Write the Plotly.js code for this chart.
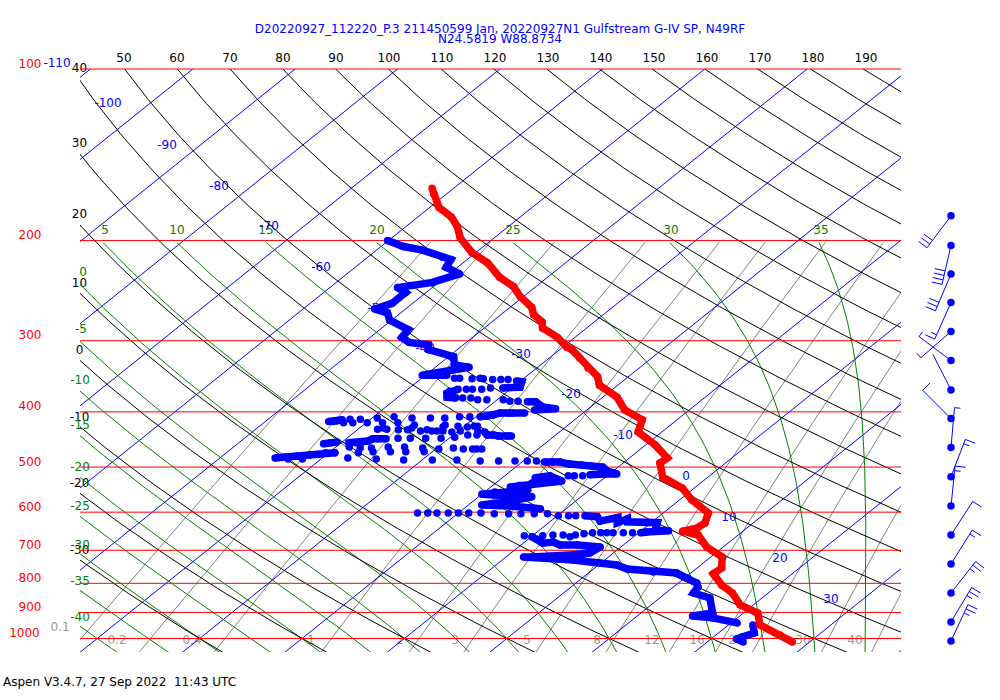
<!DOCTYPE html>
<html>
<head>
<meta charset="utf-8">
<script src="https://cdn.plot.ly/plotly-3.0.1.min.js"></script>
<style>html,body{margin:0;padding:0;background:#fff}</style>
</head>
<body>
<div id="chart" style="width:1000px;height:700px"></div>
<script>
// ---- Sounding: temperature (deg C) and pressure (hPa)
const tempC = [-62.1,-61.2,-59.1,-56.7,-55,-53.3,-50.4,-47.6,-44.7,-42.2,-40.3,-37.9,-36.8,-35.1,-34.3,-31.7,-29.6,-28.8,-27,-25,-23,-21.8,-18.6,-16.3,-13.4,-12.3,-9.1,-6.3,-6.4,-4.4,-1.2,1.2,4.4,5.3,5.1,4.1,6.1,8.4,11.1,12.4,12.3,14.5,16.5,18.7,21.4,23.1,26.25,28.3];
const tempP = [162,166,175,182,189,198,210,219,232,241,251,262,270,278,285,296,308,311,322,335,347,359,377,397,413,434,457,482,492,521,544,571,602,627,640,648,658,691,719,752,770,806,832,873,902,947,986,1014];

// ---- Dew point: continuous stretches (null = break)
const dewLineC = [-60.1,-57.8,-55.5,-52.7,-51.6,-51.1,-49,-50.6,-52.5,-53.4,-52,-52,-53,-51.3,-50.2,-47.2,-46.9,-45.6,-43.4,-42.8,-39.5,-38.4,-36.7,-38.2,-40.3,-37.9,null,
 -30.4,-29.8,-29.3,-30.9,null,
 -35.1,-35.7,-35.7,-35.2,-34.3,null,
 -26.8,-26,-24.7,-23.2,-25.1,null,
 -29.6,-29,-28.6,-28.1,-27.3,-26.9,-25.7,null,
 -43.8,-43.4,-43.1,-42.7,null,
 -27.3,-26.7,-26.1,-25.5,-24.6,-24.2,null,
 -39.3,-38.6,-38,-37.6,-37.4,-36.1,null,
 -41.6,-41.1,-40.5,null,
 -44.6,-43.8,-42.7,-41.6,-40.3,-39.4,null,
 -17.8,-17,-16.3,-15.1,-13.8,-12.7,-11.5,-10.6,-9.3,-10.6,-11.8,null,
 -16.8,-16.1,-15.6,-13.8,-14.5,-15.8,-16.5,-17.4,-18.1,-16,-19,-20,-15.5,-14.8,-16.4,-18.7,-15.8,-12.5,null,
 -7.3,-6,-5.2,-3.9,-3.3,-2.8,-2.4,-0.4,0.6,1.3,2.7,0.7,0.2,null,
 -9.9,-9.2,-8.1,-7.2,-6.2,-4.5,-2,-2.3,-3.7,-7.4,-8.3,-3.1,-0.1,1.8,3.3,6.2,8.6,10.2,11.8,12.4,12.7,14.9,17,15.4,17.6,20.6,null,
 22.4,23.5,22.8,22.5,23.5];
const dewLineP = [200,205,208,214,216,223,229,237,240,242,247,258,264,268,276,287,296,302,305,311,320,331,334,338,345,345,null,
 353,354,362,363,null,
 365,368,371,377,378,null,
 384,384,392,395,397,null,
 408,407,405,402,402,402,402,null,
 416,416,415,413,null,
 434,439,439,441,441,441,null,
 453,453,452,450,446,446,null,
 455,453,452,null,
 482,480,478,476,472,472,null,
 490,490,490,494,496,498,500,508,514,514,516,null,
 522,520,518,529,531,531,533,538,542,549,553,558,564,564,574,583,585,592,null,
 609,611,622,613,626,616,624,626,626,645,647,650,652,null,
 663,669,680,677,685,685,691,708,713,719,719,728,737,743,755,764,767,783,799,812,832,849,902,913,920,939,null,
 947,978,994,1002,1014];

// ---- Dew point: separate samples
const dewDotC = [-36.8,-36.3,-35,-34.3,-33.9,-32.9,-32.1,-31.4,-32.1,-32.8,-33.7,-34.3,-33.6,-32.8,-31.9,-31,-29.4,-28.6,-27.8,-26.2,-30.6,-31.6,-32.9,-34.3,-36.1,-38,-39.5,-41,-42,-42.2,-41.3,-39.9,-38.4,-36.9,-37.7,-38.1,-37.2,-36,-35.1,-33.2,-35,-34.9,-33.7,-32.6,-32.1,-31.5,-29.8,-28.1,-30.5,-32,-32,-30.6,-29.6,-29,-28.7,-28.6,-27.7,-29.6,-30.8,-32.3,-33.8,-35,-36.9,-38.7,-39.4,-37.5,-36.4,-31.4,-37.1,-35.8,-34.9,-33.3,-34.1,-32.6,-30.8,-29.7,-27.3,-26.4,-26,-25.5,-28.4,-43.2,-41.8,-37.5,-34.6,-31.8,-29,-26.6,-24.2,-22.4,-20.8,-19.6,-18.7,-12.4,-13.2,-13.8,-24,-23,-22.1,-21,-20,-19,-17.8,-16.4,-15,-13.8,-12.5,-11.2,-9.9,-8.9,-8.2,-0.6,-1.5,-2.5,-3.1,-3.7,-4.5,-5.2,-5.9,-7.1,-8.1,-6.2,-9,-9.9,-10.8];
const dewDotP = [349,349,350,349,350,351,351,351,363,365,365,365,378,378,381,381,381,383,383,384,408,408,410,410,410,408,410,412,412,418,418,418,418,418,427,429,429,430,430,430,422,427,432,432,432,432,432,432,434,425,422,424,425,424,424,439,439,443,445,445,445,445,446,461,472,463,463,463,472,470,461,461,470,470,470,465,465,465,465,465,463,484,484,482,484,486,486,486,488,488,488,488,488,518,518,518,602,602,602,602,602,602,602,604,604,604,604,604,609,609,609,652,652,652,652,652,652,655,658,658,658,663,660,663,660];

// ---- Wind barbs
const barbPressure = [181,204,229,257,289,325,366,411,462,520,585,658,740,832,935,1010];
const barbDirection = [217,193,203,204,229,307,333,315,5,21,6,33,32,38,31,25];
const barbSpeed = [30,40,30,15,5,5,0,10,5,15,15,10,15,25,25,25];

// ---- Diagram levels and their labels
const isobars = [100,200,300,400,500,600,700,800,900,1000];
const isotherms = [-110,-100,-90,-80,-70,-60,-50,-40,-30,-20,-10,0,10,20,30,40];
const dryAdiabats = [-30,-20,-10,0,10,20,30,40,50,60,70,80,90,100,110,120,130,140,150,160,170,180,190];
const moistAdiabats = [-40,-35,-30,-25,-20,-15,-10,-5,0,5,10,15,20,25,30,35];
const mixingRatios = [0.1,0.2,0.4,1,2,3,5,8,12,16,20,30,40];

const titleMain = 'D20220927_112220_P.3 211450599 Jan, 20220927N1 Gulfstream G-IV SP, N49RF';
const titleSub = 'N24.5819 W88.8734';
const footer = 'Aspen V3.4.7, 27 Sep 2022 \u00A011:43 UTC';

// ---- Label placement, in page pixels
const isobarLabelX = [30,30,30,30,30,30,30,30,30,24.5];
const thetaTopLabels = [50,60,70,80,90,100,110,120,130,140,150,160,170,180,190];
const thetaTopX = [124,177,230,283,336,389,442,495,548,601,654,707,760,813,866];
const thetaLeftLabels = [40,30,20,10,0,-10,-20,-30];
const thetaLeftY = [68,143,214,283,350,417,483,550];
const moistTopLabels = [5,10,15,20,25,30,35];
const moistTopX = [105,177,266,377,513,671,821];
const moistLeftLabels = [0,-5,-10,-15,-20,-25,-30,-35,-40];
const moistLeftX = [83,81,80,80,80,80,80,80,80];
const moistLeftY = [272,329,380,425,467,506,545,581,617];
const tempLabels = [-110,-100,-90,-80,-70,-60,-50,-40,-30,-20,-10,0,10,20,30];
const tempLabelX = [57,108,167,219,269,321,377,425,521,571,623,686,729,780,831];
const tempLabelY = [63,103,145,186,226,267,308,348,354,394,435,476,517,558,599];
const mixLabelX = [60,117,192,311,400,455,527,597,652,697,736,803,855];
const mixLabelY = [627,640,640,640,640,640,640,640,640,640,640,640,640];
const TEXT_DROP = 1;

// ---- Skew-T transform and thermodynamics
const SKEW = 30.11;
const skewX = (t, p) => t + SKEW * Math.log(1000 / p);
const pressureSteps = [];
for (let lp = Math.log(100); lp <= Math.log(1060) + 1e-9; lp += 0.02) pressureSteps.push(Math.exp(lp));
const pageY = p => 638.5 - 247.3 * Math.log(1000 / p);

const FONT = 'DejaVu Sans, sans-serif';
const BLUE = '#0000ff', RED = '#ff0000', GREEN = '#008000', GREY = '#808080';

function gridLines(levels, pointsFor) {
  const xs = [], ys = [];
  levels.forEach(l => {
    pointsFor(l).forEach(([t, p]) => { xs.push(skewX(t, p)); ys.push(p); });
    xs.push(null); ys.push(null);
  });
  return { x: xs, y: ys };
}
const skewLine = (g, color, width) => ({
  x: g.x, y: g.y, xaxis: 'x2', yaxis: 'y2', type: 'scatter', mode: 'lines',
  line: { color, width }, hoverinfo: 'skip', showlegend: false
});

const isothermGrid = gridLines(isotherms, t => [[t, 100], [t, 1060]]);
const dryGrid = gridLines(dryAdiabats, th => pressureSteps.map(p =>
  [(th + 273.15) * Math.pow(p / 1000, 0.288) - 273.15, p]));

function satMix(tK, p) {
  const tc = tK - 273.15;
  const es = 6.112 * Math.exp(17.67 * tc / (tc + 243.5));
  return 0.622 * es / (p - es);
}
function moistProfile(thw) {
  const top = thw < 0 ? 300 : 200;
  const step = 0.02;
  const slope = (T, p) => {
    const q = satMix(T, p), L = 2.501e6 - 2370 * (T - 273.15), Rd = 287, cp = 1004;
    return (Rd * T + L * q) / (cp + L * L * q * 0.622 / (Rd * T * T));
  };
  let T = thw + 273.15, lp = Math.log(1000);
  const up = [];
  while (Math.exp(lp) >= top) {
    up.push([T - 273.15, Math.exp(lp)]);
    const k = slope(T, Math.exp(lp));
    T -= step * slope(T - 0.5 * step * k, Math.exp(lp - 0.5 * step));
    lp -= step;
  }
  T = thw + 273.15; lp = Math.log(1000);
  const down = [];
  while (Math.exp(lp) <= 1060) {
    const k = slope(T, Math.exp(lp));
    T += step * slope(T + 0.5 * step * k, Math.exp(lp + 0.5 * step));
    lp += step;
    down.push([T - 273.15, Math.exp(lp)]);
  }
  return up.reverse().concat(down);
}
const moistGrid = gridLines(moistAdiabats, moistProfile);
const mixGrid = gridLines(mixingRatios, w => pressureSteps.filter(p => p >= 199).map(p => {
  const e = w * p / (622 + w), a = Math.log(e / 6.112);
  return [243.5 * a / (17.67 - a), p];
}));
const isobarGrid = gridLines(isobars, p => [[-200, p], [300, p]]);

// ---- Labels as real text, under the diagram lines
const textLayer = (labels, xs, ys, color) => ({
  x: xs, y: ys.map(v => v + TEXT_DROP), text: labels.map(String), type: 'scatter', mode: 'text', textposition: 'middle center',
  textfont: { family: FONT, size: 12, color }, cliponaxis: false, hoverinfo: 'skip', showlegend: false
});
const isobarLabelY = isobars.map(p => pageY(p) - 5.5);
const textTraces = [
  textLayer(isobars, isobarLabelX, isobarLabelY, RED),
  textLayer(thetaTopLabels, thetaTopX, thetaTopX.map(() => 58), '#000000'),
  textLayer(thetaLeftLabels, thetaLeftLabels.map(() => 79.5), thetaLeftY, '#000000'),
  textLayer(moistTopLabels, moistTopX, moistTopX.map(() => 230), GREEN),
  textLayer(moistLeftLabels, moistLeftX, moistLeftY, GREEN),
  textLayer(tempLabels, tempLabelX, tempLabelY, BLUE),
  textLayer(mixingRatios, mixLabelX, mixLabelY, '#999999')
];

// ---- Wind barbs, built in page pixels from direction and speed
const barbX = 951, STAFF = 40, FULL = 10.5, HALF = 6, GAP = 4.6;
const bx = [], by = [];
barbPressure.forEach((p, i) => {
  const a = barbDirection[i] * Math.PI / 180;
  const ux = Math.sin(a), uy = -Math.cos(a);
  const y0 = pageY(p);
  bx.push(barbX, barbX + STAFF * ux, null);
  by.push(y0, y0 + STAFF * uy, null);
  let s = barbSpeed[i], pos = STAFF;
  while (s >= 5) {
    const len = s >= 10 ? FULL : HALF;
    const sx = barbX + pos * ux, sy = y0 + pos * uy;
    bx.push(sx, sx - uy * len, null);
    by.push(sy, sy + ux * len, null);
    s -= s >= 10 ? 10 : 5;
    pos -= GAP;
  }
});
const barbLines = { x: bx, y: by, type: 'scatter', mode: 'lines', line: { color: BLUE, width: 1 }, hoverinfo: 'skip', showlegend: false };
const barbDots = { x: barbPressure.map(() => barbX), y: barbPressure.map(pageY), type: 'scatter', mode: 'markers',
  marker: { color: BLUE, size: 7.5 }, hoverinfo: 'skip', showlegend: false };

// ---- Sounding traces
const dewLine = {
  x: dewLineC.map((t, i) => t === null ? null : skewX(t, dewLineP[i])), y: dewLineP,
  xaxis: 'x2', yaxis: 'y2', type: 'scatter', mode: 'lines+markers',
  line: { color: BLUE, width: 7.5 }, marker: { color: BLUE, size: 7.5 }, hoverinfo: 'skip', showlegend: false
};
const dewDots = {
  x: dewDotC.map((t, i) => skewX(t, dewDotP[i])), y: dewDotP,
  xaxis: 'x2', yaxis: 'y2', type: 'scatter', mode: 'markers',
  marker: { color: BLUE, size: 7.5 }, hoverinfo: 'skip', showlegend: false
};
const tempLine = {
  x: tempC.map((t, i) => skewX(t, tempP[i])), y: tempP,
  xaxis: 'x2', yaxis: 'y2', type: 'scatter', mode: 'lines+markers',
  line: { color: RED, width: 7.5 }, marker: { color: RED, size: 7.5 }, hoverinfo: 'skip', showlegend: false
};

const traces = textTraces.concat([
  barbLines, barbDots,
  skewLine(mixGrid, GREY, 1),
  skewLine(isothermGrid, BLUE, 1),
  skewLine(moistGrid, GREEN, 1),
  skewLine(dryGrid, '#000000', 1),
  skewLine(isobarGrid, RED, 1),
  dewLine, dewDots, tempLine
]);

const hidden = { visible: false, fixedrange: true };
const layout = {
  width: 1000, height: 700, autosize: false, showlegend: false,
  margin: { l: 0, r: 0, t: 0, b: 0, pad: 0 },
  paper_bgcolor: '#ffffff', plot_bgcolor: 'rgba(0,0,0,0)',
  title: { text: titleMain, x: 0.5, xref: 'paper', xanchor: 'center', y: 1 - 29 / 700, yref: 'container', yanchor: 'middle',
           font: { family: FONT, size: 12, color: BLUE } },
  xaxis: Object.assign({ domain: [0, 1], range: [0, 1000], anchor: 'y' }, hidden),
  yaxis: Object.assign({ domain: [0, 1], range: [700, 0], anchor: 'x' }, hidden),
  xaxis2: Object.assign({ domain: [0.08, 0.901], range: [-41.68, 38.5], anchor: 'y2' }, hidden),
  yaxis2: Object.assign({ domain: [1 - 652 / 700, 1 - 66 / 700], type: 'log', range: [3.0237, 1.9947], anchor: 'x2' }, hidden),
  annotations: [
    { xref: 'x', yref: 'y', x: 500, y: 39, text: titleSub, showarrow: false, xanchor: 'center', yanchor: 'middle',
      font: { family: FONT, size: 12, color: BLUE } },
    { xref: 'x', yref: 'y', x: 1, y: 682, text: footer, showarrow: false, xanchor: 'left', yanchor: 'middle',
      font: { family: FONT, size: 12, color: '#000000' } }
  ]
};
Plotly.newPlot('chart', traces, layout, { displayModeBar: false, staticPlot: true });
</script>
</body>
</html>
